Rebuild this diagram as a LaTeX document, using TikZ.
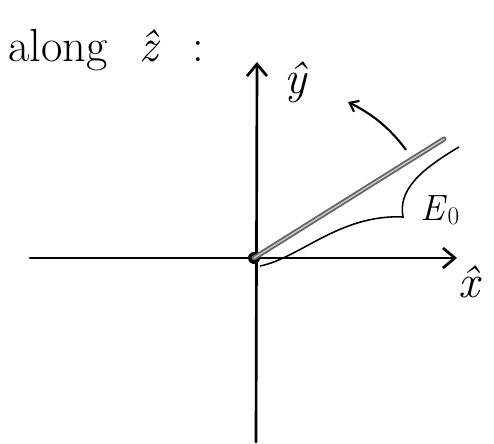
\documentclass[tikz,border=0pt]{standalone}
\usepackage{amsmath, amssymb}
\usetikzlibrary{arrows.meta}
\definecolor{field}{RGB}{100, 100, 100}

\begin{document}
\begin{tikzpicture}[x=0.5mm, y=-0.5mm,
    axis/.style={line width=3.8pt, line cap=round, -{Straight Barb[length=6mm, width=10mm, line width=3.8pt]}},
    txt/.style={font=\fontsize{66}{72}\selectfont, inner sep=0pt}]
        \useasboundingbox (0,0) rectangle (494,444);
        % Axis ends
        \coordinate (xl) at (30,258);
        \coordinate (xr) at (457,258);
        \coordinate (yb) at (256,442);
        \coordinate (yt) at (257,62);
        % Origin
        \node[circle, fill=black, inner sep=0pt, minimum size=6mm] (O) at (254,258) {};
        % Axes
        \draw[axis] (xl) -- (xr);
        \draw[axis] (yb) -- (yt);
        \node[txt] (xhat) at (470,282) {\textit{\^{x}}};
        \node[txt] (yhat) at (296,82) {\textit{\^{y}}};
        % Title
        \node[txt, anchor=west] (title) at (8,50)
          {along\hspace{0.7em}\textit{\^{z}}\hspace{0.7em}:};
        % Field line
        \coordinate (tip) at (444,139);
        \draw[draw=field, line width=2.6pt, double=field!35, double distance=2pt, line cap=round]
          (O.center) -- (tip);
        % Rotation arrow
        \coordinate (r0) at (406,150);
        \coordinate (r1) at (348,102);
        \draw[line width=3pt, -{Straight Barb[length=4mm, width=6mm, line width=3pt]}]
          (r0) .. controls (390,128) and (372,114) .. (r1);
        % Angle bracket
        \coordinate (b0) at (260,266);
        \coordinate (bc) at (403,217);
        \coordinate (b1) at (459,147);
        \draw[line width=2.2pt]
          (b0) .. controls (300,258) and (340,214) .. (bc)
          .. controls (398,190) and (420,170) .. (b1);
        \node[txt, font=\fontsize{52}{60}\selectfont] (E) at (440,210)
          {\textit{E}\raisebox{-0.12em}{\fontsize{36}{40}\selectfont 0}};
      \end{tikzpicture}
\end{document}
